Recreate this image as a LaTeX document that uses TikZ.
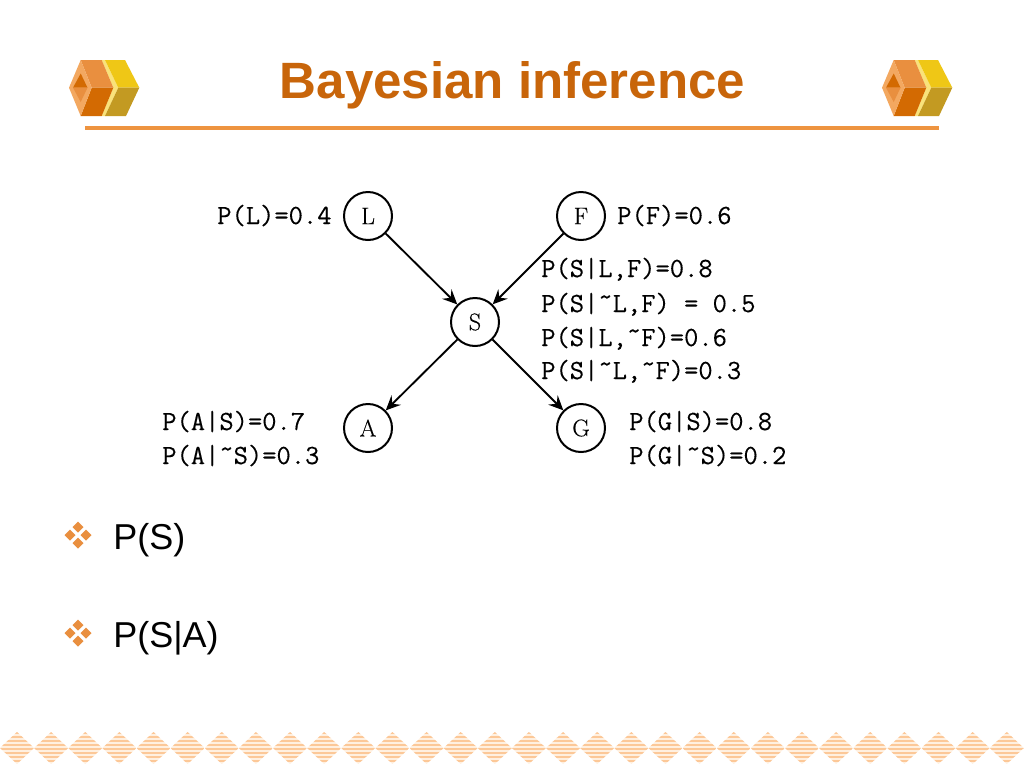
\documentclass[tikz,border=0pt]{standalone}
\usepackage{fontspec}
\setmainfont{Liberation Sans}
\newfontfamily\probfont[FakeBold=0.25]{Latin Modern Mono}
\newfontfamily\serifletters[FakeBold=0.3]{Latin Modern Roman}
\usetikzlibrary{arrows.meta, positioning}
\definecolor{titleorange}{HTML}{C8650A}
\definecolor{ruleorange}{HTML}{EE9440}
\definecolor{faceorange}{HTML}{E98F3F}
\definecolor{darkorange}{HTML}{D36A02}
\definecolor{paleorange}{HTML}{F3A860}
\definecolor{faceyellow}{HTML}{EFC716}
\definecolor{darkyellow}{HTML}{C39A22}
\definecolor{paleyellow}{HTML}{F9E27A}
\definecolor{stripeorange}{HTML}{FCC898}
\definecolor{stripepale}{HTML}{FFF0E0}
\tikzset{
    varnode/.style={draw, circle, line width=1.5pt, minimum size=36pt, inner sep=0pt, font=\serifletters\fontsize{18}{18}\selectfont},
    link/.style={line width=1.4pt, -{Stealth[length=11pt, width=10pt, inset=4pt]}},
    prob/.style={anchor=base west, inner sep=0pt, font=\probfont\fontsize{20.8}{20.8}\selectfont},
    bullettext/.style={anchor=base west, inner sep=0pt, font=\fontsize{27}{27}\selectfont},
    petal/.style={fill=faceorange, draw=none}
}
\newcommand{\tld}{\raisebox{0.55ex}{\textasciitilde}}
\begin{document}
\begin{tikzpicture}[x=0.75pt, y=-0.75pt]
\useasboundingbox (0,0) rectangle (1024,768);
\fill[white] (0,0) rectangle (1024,768);

% logos
\foreach \dx in {0,813} {
\begin{scope}[xshift=\dx*0.75pt]
\fill[paleyellow] (101.7,60) -- (105,60) -- (118.3,87.7) -- (105,116) -- (101.7,116) -- (113.3,87.7) -- cycle;
\fill[faceyellow] (105,60) -- (125,60) -- (139.3,87.7) -- (118.3,87.7) -- cycle;
\fill[darkyellow] (118.3,87.7) -- (139.3,87.7) -- (126,116) -- (105,116) -- cycle;
\fill[faceorange] (80.7,60) -- (101.7,60) -- (113.3,87.7) -- (91.7,87.7) -- cycle;
\fill[darkorange] (91.7,87.7) -- (113.3,87.7) -- (101.7,116) -- (80.7,116) -- cycle;
\fill[paleorange] (80.7,60) -- (91.7,87.7) -- (80.7,116) -- (69,87.7) -- cycle;
\fill[darkorange] (80.7,73.5) -- (73,87.7) -- (87.5,87.7) -- cycle;
\fill[faceorange] (80.7,102) -- (73,87.7) -- (87.5,87.7) -- cycle;
\end{scope}
}

\node[font=\bfseries\fontsize{38.3}{38.3}\selectfont, text=titleorange, anchor=base] (title) at (512.5,98) {Bayesian inference};
\draw[ruleorange, line width=2.4pt] (85,128) -- (939,128);

% network
\node[varnode] (L) at (368,216) {L};
\node[varnode] (F) at (581,216) {F};
\node[varnode] (S) at (475,322) {S};
\node[varnode] (A) at (368,428) {A};
\node[varnode] (G) at (581,428) {G};
\draw[link] (L) -- (S);
\draw[link] (F) -- (S);
\draw[link] (S) -- (A);
\draw[link] (S) -- (G);

\node[prob] (pL) at (217,224) {P(L)=0.4};
\node[prob] (pF) at (617,224) {P(F)=0.6};
\node[prob] (pSa) at (541,277) {P(S|L,F)=0.8};
\node[prob] (pSb) at (541,312) {P(S|\tld L,F) = 0.5};
\node[prob] (pSc) at (541,346) {P(S|L,\tld F)=0.6};
\node[prob] (pSd) at (541,379) {P(S|\tld L,\tld F)=0.3};
\node[prob] (pAa) at (162,430) {P(A|S)=0.7};
\node[prob] (pAb) at (162,464) {P(A|\tld S)=0.3};
\node[prob] (pGa) at (629,430) {P(G|S)=0.8};
\node[prob] (pGb) at (629,464) {P(G|\tld S)=0.2};

% bullets
\foreach \y in {535,633} {
\foreach \ox/\oy in {0/-8, 8/0, 0/8, -8/0} {
\fill[petal] (78+\ox-5.5,\y+\oy) -- (78+\ox,\y+\oy-5.5) -- (78+\ox+5.5,\y+\oy) -- (78+\ox,\y+\oy+5.5) -- cycle;
}
}
\node[bullettext] (one) at (113,549) {P(S)};
\node[bullettext] (two) at (113,647) {P(S|A)};

% bottom band
\foreach \k in {0,...,29} {
\begin{scope}
\pgfmathsetmacro{\cx}{17+34.13*\k}
\clip (\cx-17,748) -- (\cx,732) -- (\cx+17,748) -- (\cx,764) -- cycle;
\fill[stripepale] (\cx-17,732) rectangle (\cx+17,764);
\foreach \j in {-15,-11,...,15} {
\draw[stripeorange, line width=1.3pt] (\cx-17,748+\j) -- (\cx+17,748+\j);
}
\end{scope}
}
\end{tikzpicture}
\end{document}
